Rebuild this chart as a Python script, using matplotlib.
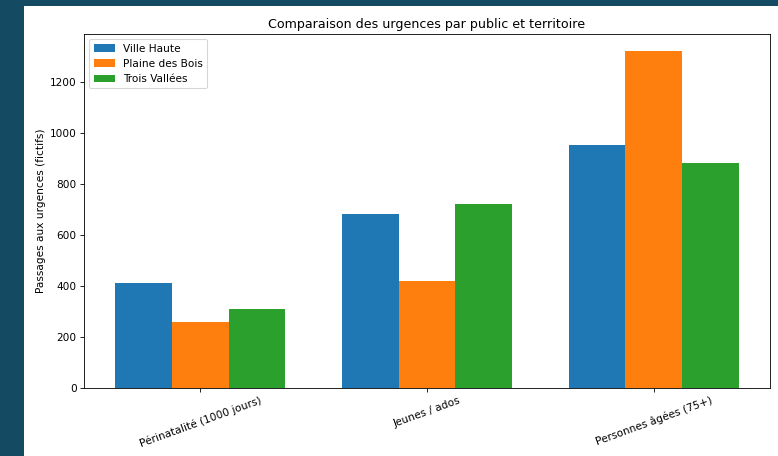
import matplotlib
matplotlib.use("Agg")
import matplotlib.pyplot as plt
import numpy as np
from matplotlib.patches import Rectangle

PAGE = "#154a63"

categories = ["Périnatalité (1000 jours)", "Jeunes / ados", "Personnes âgées (75+)"]
territories = ["Ville Haute", "Plaine des Bois", "Trois Vallées"]
ville_haute = [410, 680, 950]
plaine_des_bois = [260, 420, 1320]
trois_vallees = [310, 720, 880]

W, H = 778, 456
DPI = 76  # chart rendered a bit small on the page
fig = plt.figure(figsize=(W / DPI, H / DPI), dpi=DPI, facecolor=PAGE)

# white card holding the chart, page colour shows on the left and top
fig.patches.append(Rectangle((24 / W, 0), 1 - 24 / W, 1 - 6 / H,
                             transform=fig.transFigure, facecolor="white",
                             edgecolor="none", zorder=-10))

ax = fig.add_axes([84 / W, 1 - 388 / H, (770 - 84) / W, (388 - 34) / H])

x = np.arange(len(categories))
width = 0.25
series = [ville_haute, plaine_des_bois, trois_vallees]
for i, (name, vals) in enumerate(zip(territories, series)):
    ax.bar(x + (i - 1) * width, vals, width, label=name)

ax.set_xticks(x)
ax.set_xticklabels(categories, rotation=20)
ax.set_ylabel("Passages aux urgences (fictifs)")
ax.set_title("Comparaison des urgences par public et territoire")
ax.legend(loc="upper left")

fig.savefig("out.png", dpi=DPI, facecolor=PAGE)
